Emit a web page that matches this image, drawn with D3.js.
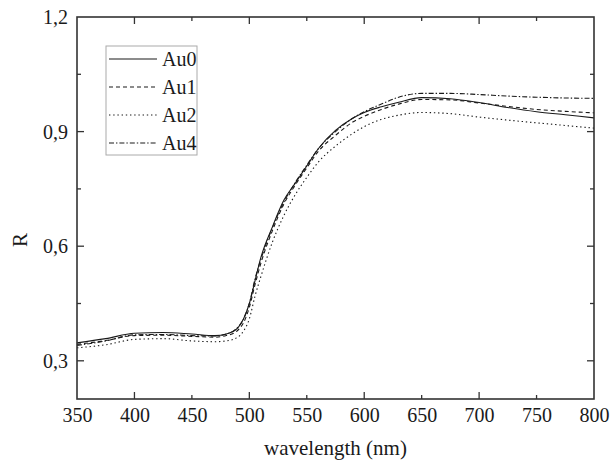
<!DOCTYPE html>
<html><head><meta charset="utf-8">
<script src="https://cdn.jsdelivr.net/npm/d3@7/dist/d3.min.js"></script>
<style>body{margin:0;background:#fff}svg{display:block}svg text{font-family:"Liberation Serif","Tinos","Times New Roman","DejaVu Serif",serif !important;fill:#1a1a1a}</style>
</head><body><svg id="c" width="613" height="470"></svg>
<script>
const wavelengths = [350,375,400,425,450,470,480,490,495,500,505,510,520,530,540,550,560,575,590,600,615,630,650,675,700,725,750,775,800];
const au0 = [0.347,0.358,0.372,0.374,0.370,0.366,0.370,0.386,0.41,0.45,0.51,0.57,0.65,0.72,0.765,0.81,0.855,0.903,0.935,0.950,0.965,0.977,0.989,0.986,0.976,0.963,0.952,0.944,0.936];
const au1 = [0.343,0.353,0.366,0.367,0.364,0.362,0.366,0.380,0.40,0.44,0.50,0.555,0.64,0.71,0.76,0.805,0.848,0.89,0.925,0.940,0.958,0.972,0.984,0.983,0.975,0.966,0.958,0.953,0.949];
const au2 = [0.334,0.342,0.356,0.358,0.352,0.350,0.352,0.362,0.378,0.41,0.47,0.52,0.61,0.68,0.735,0.78,0.82,0.862,0.895,0.913,0.932,0.943,0.950,0.947,0.938,0.930,0.923,0.916,0.909];
const au4 = [0.340,0.352,0.368,0.369,0.366,0.365,0.370,0.388,0.41,0.45,0.515,0.565,0.648,0.715,0.767,0.812,0.855,0.9,0.935,0.952,0.972,0.99,1.0,1.0,0.997,0.993,0.99,0.988,0.987];
const seriesNames = ["Au0","Au1","Au2","Au4"];
const xTickLabels = [350,400,450,500,550,600,650,700,750,800];
const yTickLabels = [0.3,0.6,0.9,1.2];

const series = [
  {name:seriesNames[0], values:au0, dash:null},
  {name:seriesNames[1], values:au1, dash:"4,3"},
  {name:seriesNames[2], values:au2, dash:"1.4,2.8"},
  {name:seriesNames[3], values:au4, dash:"5,2,1.4,2"}
];

const FONT = '"Liberation Serif","Tinos","Times New Roman","DejaVu Serif",serif';
const svg = d3.select("#c");
const L=77, R=594, T=17, B=399;
const x = d3.scaleLinear().domain([350,800]).range([L,R]);
const y = d3.scaleLinear().domain([0.2,1.2]).range([B,T]);

const line = d3.line().x((d,i)=>x(wavelengths[i])).y(d=>y(d)).curve(d3.curveMonotoneX);
const g = svg.append("g");
series.forEach(s=>{
  g.append("path").attr("d", line(s.values)).attr("fill","none")
   .attr("stroke","#1a1a1a").attr("stroke-width",1.1)
   .attr("stroke-dasharray", s.dash);
});

const axisColor="#333";
const fmt = d => d3.format(".1f")(d).replace(".",",");
const bottom = d3.axisBottom(x).tickValues(xTickLabels).tickSize(0).tickPadding(9).tickFormat(d3.format("d"));
const ba = svg.append("g").attr("transform",`translate(0,${B})`).call(bottom);
ba.attr("font-family",FONT).attr("font-size",20);
ba.select(".domain").remove();
ba.selectAll("text").style("font-family",FONT).style("font-size","20px");
const left = d3.axisLeft(y).tickValues(yTickLabels).tickSize(0).tickPadding(9).tickFormat(fmt);
const la = svg.append("g").attr("transform",`translate(${L},0)`).call(left);
la.attr("font-family",FONT).attr("font-size",20);
la.select(".domain").remove();
la.selectAll("text").style("font-family",FONT).style("font-size","20px");

const xMajor=[400,500,600,700], xMinor=[450,550,650,750];
const yMajor=[0.3,0.6,0.9], yMinor=[0.45,0.75,1.05];
const tk = svg.append("g").attr("stroke",axisColor).attr("stroke-width",1.3);
[[xMajor,7],[xMinor,4]].forEach(([vals,len])=>{
  vals.forEach(v=>{
    tk.append("line").attr("x1",x(v)).attr("x2",x(v)).attr("y1",B).attr("y2",B-len);
    tk.append("line").attr("x1",x(v)).attr("x2",x(v)).attr("y1",T).attr("y2",T+len);
  });
});
[[yMajor,7],[yMinor,4]].forEach(([vals,len])=>{
  vals.forEach(v=>{
    tk.append("line").attr("y1",y(v)).attr("y2",y(v)).attr("x1",L).attr("x2",L+len);
    tk.append("line").attr("y1",y(v)).attr("y2",y(v)).attr("x1",R).attr("x2",R-len);
  });
});
svg.append("rect").attr("x",L).attr("y",T).attr("width",R-L).attr("height",B-T)
  .attr("fill","none").attr("stroke",axisColor).attr("stroke-width",1.6);

svg.append("text").attr("x",(L+R)/2).attr("y",455).attr("text-anchor","middle")
  .style("font-family",FONT).style("font-size","21px").text("wavelength (nm)");
svg.append("text").attr("transform","translate(27,240) rotate(-90)").attr("text-anchor","middle")
  .style("font-family",FONT).style("font-size","21px").text("R");

const lg = svg.append("g");
lg.append("rect").attr("x",106).attr("y",46).attr("width",91).attr("height",109)
  .attr("fill","#fff").attr("stroke","#aaa").attr("stroke-width",1);
series.forEach((s,i)=>{
  const yy = 59 + i*28;
  lg.append("line").attr("x1",109).attr("x2",157).attr("y1",yy).attr("y2",yy)
    .attr("stroke","#1a1a1a").attr("stroke-width",1.1).attr("stroke-dasharray",s.dash);
  lg.append("text").attr("x",162).attr("y",yy+7).style("font-family",FONT).style("font-size","20px").text(s.name);
});
</script></body></html>
